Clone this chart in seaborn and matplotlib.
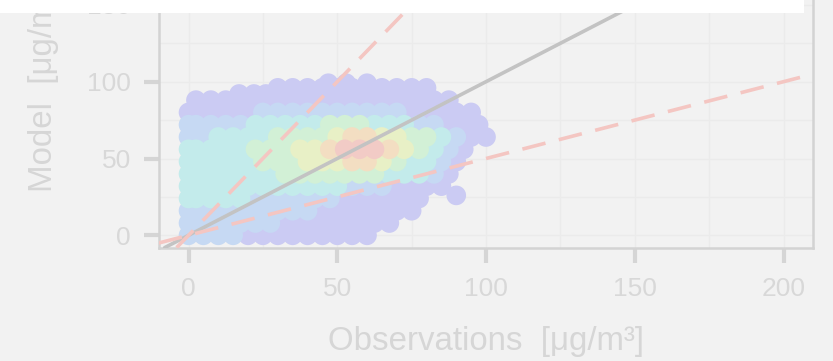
import pandas as pd
import matplotlib.pyplot as plt
from matplotlib.patches import Rectangle
from matplotlib.ticker import MultipleLocator
import seaborn as sns

# ==========================================
# data: one row of points per model level
# ==========================================
row_model = [0, 8, 16, 24, 32, 40, 48, 56, 64, 72, 80, 88, 92, 96, 99, 26]
row_obs = [
    [0, 5, 10, 15, 20, 25, 30, 35, 40, 45, 50, 55, 60],
    [0, 2.5, 7.5, 12.5, 17.5, 22.5, 27.5, 32.5, 37.5, 42.5, 47.5, 52.5, 57.5, 62.5, 67.5],
    [0, 5, 10, 15, 20, 25, 30, 35, 40, 45, 50, 55, 60, 65, 70, 75],
    [0, 2.5, 7.5, 12.5, 17.5, 22.5, 27.5, 32.5, 37.5, 42.5, 47.5, 52.5, 57.5, 62.5, 67.5, 72.5, 77.5],
    [0, 5, 10, 15, 20, 25, 30, 35, 40, 45, 50, 55, 60, 65, 70, 75, 80, 85],
    [0, 2.5, 7.5, 12.5, 17.5, 22.5, 27.5, 32.5, 37.5, 42.5, 47.5, 52.5, 57.5, 62.5, 67.5, 72.5, 77.5, 82.5, 87.5],
    [0, 5, 10, 15, 20, 25, 30, 35, 40, 45, 50, 55, 60, 65, 70, 75, 80, 85, 90],
    [0, 2.5, 7.5, 12.5, 17.5, 22.5, 27.5, 32.5, 37.5, 42.5, 47.5, 52.5, 57.5, 62.5, 67.5, 72.5, 77.5, 82.5, 87.5, 92.5],
    [0, 5, 10, 15, 20, 25, 30, 35, 40, 45, 50, 55, 60, 65, 70, 75, 80, 85, 90, 95, 100],
    [0, 2.5, 7.5, 12.5, 17.5, 22.5, 27.5, 32.5, 37.5, 42.5, 47.5, 52.5, 57.5, 62.5, 67.5, 72.5, 77.5, 82.5, 87.5, 92.5, 97.5],
    [0, 5, 10, 15, 20, 25, 30, 35, 40, 45, 50, 55, 60, 65, 70, 75, 80, 85, 90, 95],
    [2.5, 7.5, 12.5, 17.5, 22.5, 27.5, 32.5, 37.5, 42.5, 47.5, 52.5, 57.5, 62.5, 67.5, 72.5, 77.5, 82.5, 87.5],
    [17, 22, 26],
    [30, 35, 40, 45, 50, 55, 60, 65, 70, 75, 80],
    [47, 53, 60],
    [90],
]
# density class of each point (0 = sparse ... 6 = densest)
row_level = [
    "1111000000000",
    "111111100000000",
    "1111111110000000",
    "22222111111000000",
    "222222222221110000",
    "2222222333333322210",
    "2222233344455432210",
    "22222333445666543210",
    "112222333345544332100",
    "111112222233322211000",
    "00000111111111100000",
    "000000000000000000",
    "000",
    "00000000000",
    "000",
    "0",
]

# faded "jet" colours as they appear in the picture
level_colors = ["#cbcbf3", "#c6d9f3", "#c3ebeb", "#d2f0d6", "#e8f0c6", "#f3dec2", "#f2cbc6"]

x_ticks = [0, 50, 100, 150, 200]
y_ticks = [0, 50, 100, 150, 200]
ref_slopes = [2, 0.5]

obs, model, level = [], [], []
for y, xs, lv in zip(row_model, row_obs, row_level):
    for x, c in zip(xs, lv):
        obs.append(x)
        model.append(y)
        level.append(int(c))
df = pd.DataFrame({"obs": obs, "model": model, "level": level})
df = df.sort_values("level", kind="stable")

# ==========================================
# style
# ==========================================
bg = "#f2f2f2"
faint = "#d5d5d5"
sns.set_style("ticks", rc={"axes.facecolor": bg, "figure.facecolor": bg,
                           "axes.edgecolor": faint})
plt.rcParams["font.family"] = ["Liberation Sans", "DejaVu Sans"]

fig = plt.figure(figsize=(8.33, 3.61), dpi=100)
ax = fig.add_axes([0.1906, 0.3141, 0.7857, 0.9277])

palette = {i: c for i, c in enumerate(level_colors)}
sns.scatterplot(data=df, x="obs", y="model", hue="level", palette=palette,
                s=200, linewidth=0, legend=False, ax=ax, zorder=2)

# 1:1 line and factor-of-two lines
ax.axline((0, 0), slope=1, color="#c3c3c3", lw=2.6, zorder=3)
for s in ref_slopes:
    ax.axline((0, 0), slope=s, color="#f4c6c2", lw=2.6, dashes=(6.6, 3.8), zorder=3)

ax.set_xlim(-10, 210)
ax.set_ylim(-8, 210)
ax.set_xticks(x_ticks)
ax.set_yticks(y_ticks)
ax.xaxis.set_minor_locator(MultipleLocator(25))
ax.yaxis.set_minor_locator(MultipleLocator(25))
ax.grid(which="both", color="#ebebeb", lw=1, zorder=0)
ax.tick_params(which="minor", length=0)
ax.tick_params(which="major", length=11, width=3, color=faint,
               labelcolor="#d8d8d8", labelsize=19)
ax.tick_params(axis="x", pad=10)
ax.tick_params(axis="y", pad=9)
for sp in ax.spines.values():
    sp.set_color("#d3d3d3")
    sp.set_linewidth(1.8)

ax.set_xlabel("Observations  [μg/m³]", fontsize=23.8, color="#d6d6d6", labelpad=18)
ax.set_ylabel("Model  [μg/m³]", fontsize=23.8, color="#d6d6d6")
ax.yaxis.set_label_coords(-0.152, 0.4825)

# white strip along the top edge
fig.add_artist(Rectangle((0, 1 - 13 / 361), 804 / 833, 0.05,
                         transform=fig.transFigure, facecolor="white",
                         edgecolor="none", zorder=10))

fig.savefig("out.png", dpi=100)
